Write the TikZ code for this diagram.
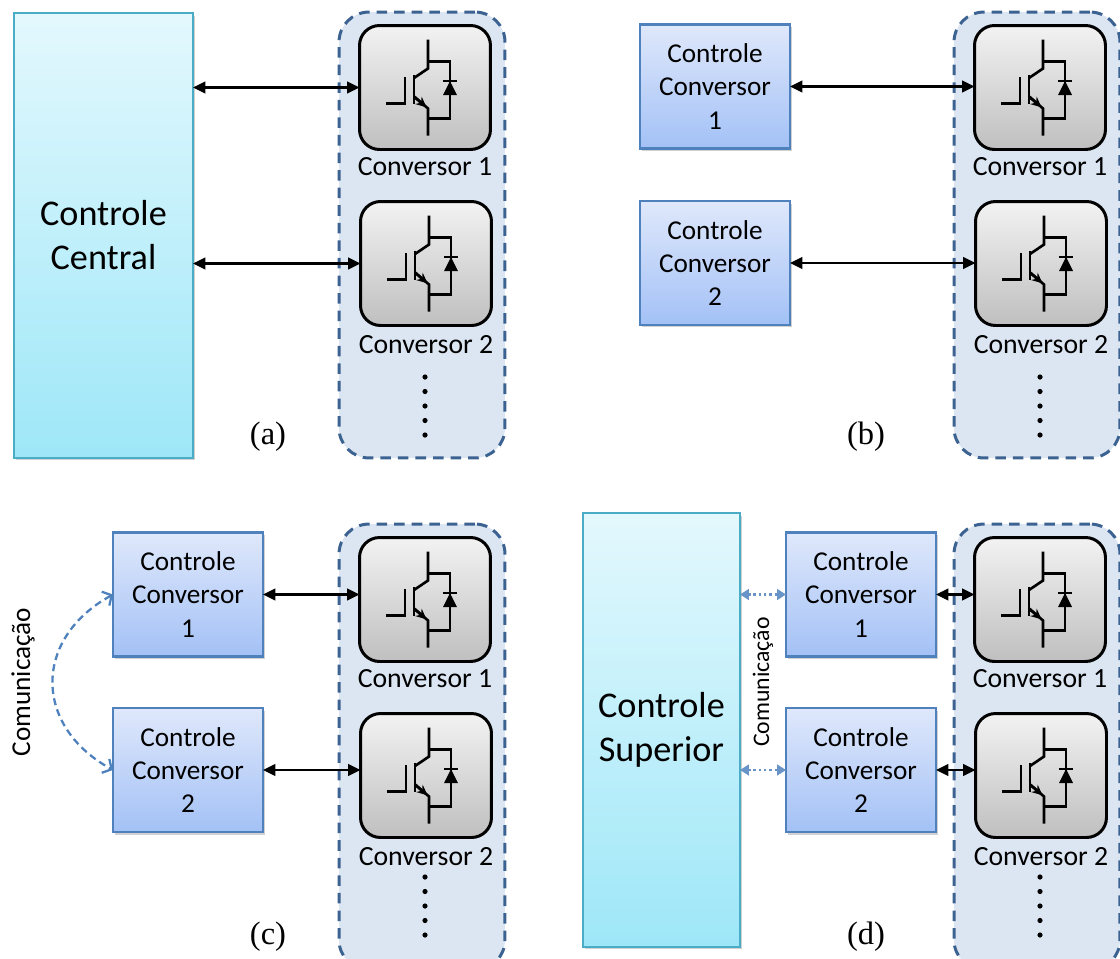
\documentclass[tikz,border=0pt]{standalone}
\usepackage{fontspec}
\setmainfont{Carlito}
\newfontfamily\letterfont{Liberation Serif}
\usepackage{tikz}
\usetikzlibrary{arrows.meta,positioning,shadows}

\definecolor{cyanline}{HTML}{4BACC6}
\definecolor{cyantop}{HTML}{E3F8FD}
\definecolor{cyanbot}{HTML}{9EE7F8}
\definecolor{ctlline}{HTML}{4F81BD}
\definecolor{ctltop}{HTML}{DFE8FB}
\definecolor{ctlbot}{HTML}{A3C1F6}
\definecolor{grpfill}{HTML}{DCE6F2}
\definecolor{grpline}{HTML}{3C6291}

\tikzset{
  igbt/.pic={
    \draw[line width=1.5pt] (3,-48) -- (3,-19) -- (-11,-9.5);
    \draw[line width=1.5pt] (-11,-13) -- (-11,16);
    \draw[line width=1.5pt] (-39,16) -- (-20,16) -- (-20,-11);
    \draw[line width=1.5pt] (-11,9) -- (3,21) -- (3,48);
    \draw[line width=1.5pt, -{Stealth[length=6pt,width=5.5pt]}] (-11,9) -- (1.5,19.8);
    \draw[line width=1.5pt] (3,-26) -- (25,-26) -- (25,31) -- (3,31);
    \fill (18,7.5) -- (32,7.5) -- (25,-6.5) -- cycle;
    \draw[line width=1.5pt] (18,-6.5) -- (32,-6.5);
  },
  shade/.style={drop shadow={shadow xshift=0.04cm, shadow yshift=-0.05cm, opacity=0.3, fill=black!60}},
  grpbox/.style={draw=grpline, fill=grpfill, line width=1.7pt, dash pattern=on 6pt off 4pt,
    rounded corners=0.6cm, minimum width=3.32cm, minimum height=8.92cm, inner sep=0pt, outer sep=0pt},
  convbox/.style={draw=black, line width=1.7pt, rounded corners=0.4cm, top color=black!5, bottom color=black!25,
    minimum width=2.62cm, minimum height=2.48cm, inner sep=0pt, outer sep=0pt},
  convlabel/.style={inner sep=0pt, font=\fontsize{15.8}{19}\selectfont},
  ctlbig/.style={draw=cyanline, line width=1.3pt, top color=cyantop, bottom color=cyanbot, shade,
    align=center, inner sep=0pt, outer sep=0pt, font=\fontsize{20.6}{25}\selectfont},
  ctlbox/.style={draw=ctlline, line width=1.3pt, top color=ctltop, bottom color=ctlbot, shade,
    align=center, minimum width=3cm, minimum height=2.48cm, inner sep=0pt, outer sep=0pt,
    font=\fontsize{15.5}{19}\selectfont},
  link/.style={line width=1.3pt, {Triangle[length=7pt,width=6.5pt]}-{Triangle[length=7pt,width=6.5pt]}},
  comm/.style={draw=ctlline, line width=1.3pt, dash pattern=on 4pt off 2.5pt,
    {Straight Barb[length=4pt,width=9pt]}-{Straight Barb[length=4pt,width=9pt]}},
  commdot/.style={draw=ctlline!85, line width=1.4pt, dash pattern=on 1.4pt off 1.6pt,
    {Triangle[length=5pt,width=6pt]}-{Triangle[length=5pt,width=6pt]}},
  panel/.style={inner sep=0pt, font=\letterfont\fontsize{18.5}{20}\selectfont},
}

\begin{document}
\begin{tikzpicture}[x=0.02cm, y=-0.02cm]
  \useasboundingbox (0,0) rectangle (1120,958);

  % converter column of each panel
  \foreach \p/\dx/\dy/\up/\tx in {a/0/0/0/268, b/615/0/0/251, c/0/512/12/268, d/615/512/12/251} {
    \begin{scope}[shift={(\dx,\dy)}]
      \node[grpbox] (grp\p) at (422,235) {};
      \node[convbox] (\p1) at (425,87.5) {};
      \node[convbox] (\p2) at (426,263.5) {};
      \pic at (\p1) {igbt};
      \pic at (\p2) {igbt};
      \node[convlabel, below=0.16cm of \p1] (lbl\p1) {Conversor 1};
      \node[convlabel, below=0.2cm of \p2] (lbl\p2) {Conversor 2};
      \foreach \k in {0,...,4}
        \fill (425,{377-\up+14.5*\k}) circle (2.6);
      \node[panel] (tag\p) at (\tx,437-\up) {(\p)};
    \end{scope}
  }

  % (a)
  \node[ctlbig, minimum width=3.58cm, minimum height=8.9cm] (cc) at (103.5,235.5) {Controle\\Central};
  \draw[link] (a1.west -| cc.east) -- (a1.west);
  \draw[link] (a2.west -| cc.east) -- (a2.west);

  % (b)
  \node[ctlbox] (ctlb1) at (715,86.5) {Controle\\Conversor\\1};
  \node[ctlbox] (ctlb2) at (715,263) {Controle\\Conversor\\2};
  \draw[link] (ctlb1.east) -- (ctlb1.east -| b1.west);
  \draw[link] (ctlb2.east) -- (ctlb2.east -| b2.west);

  % (c)
  \node[ctlbox] (ctlc1) at (188,594.5) {Controle\\Conversor\\1};
  \node[ctlbox] (ctlc2) at (188,770) {Controle\\Conversor\\2};
  \draw[link] (ctlc1.east) -- (ctlc1.east -| c1.west);
  \draw[link] (ctlc2.east) -- (ctlc2.east -| c2.west);
  \draw[comm] (ctlc1.west) .. controls +(-80,44) and +(-80,-44) .. (ctlc2.west);
  \node[rotate=90, font=\fontsize{15.5}{19}\selectfont] (commc) at (23,682) {Comunicação};

  % (d)
  \node[ctlbig, minimum width=3.14cm, minimum height=8.68cm] (sup) at (661.5,730) {Controle\\Superior};
  \node[ctlbox] (ctld1) at (861,594.5) {Controle\\Conversor\\1};
  \node[ctlbox] (ctld2) at (861,770) {Controle\\Conversor\\2};
  \draw[link] (ctld1.east) -- (ctld1.east -| d1.west);
  \draw[link] (ctld2.east) -- (ctld2.east -| d2.west);
  \draw[commdot] (ctld1.west -| sup.east) -- (ctld1.west);
  \draw[commdot] (ctld2.west -| sup.east) -- (ctld2.west);
  \node[rotate=90, font=\fontsize{13.5}{16}\selectfont] (commd) at (763,682) {Comunicação};
\end{tikzpicture}
\end{document}
